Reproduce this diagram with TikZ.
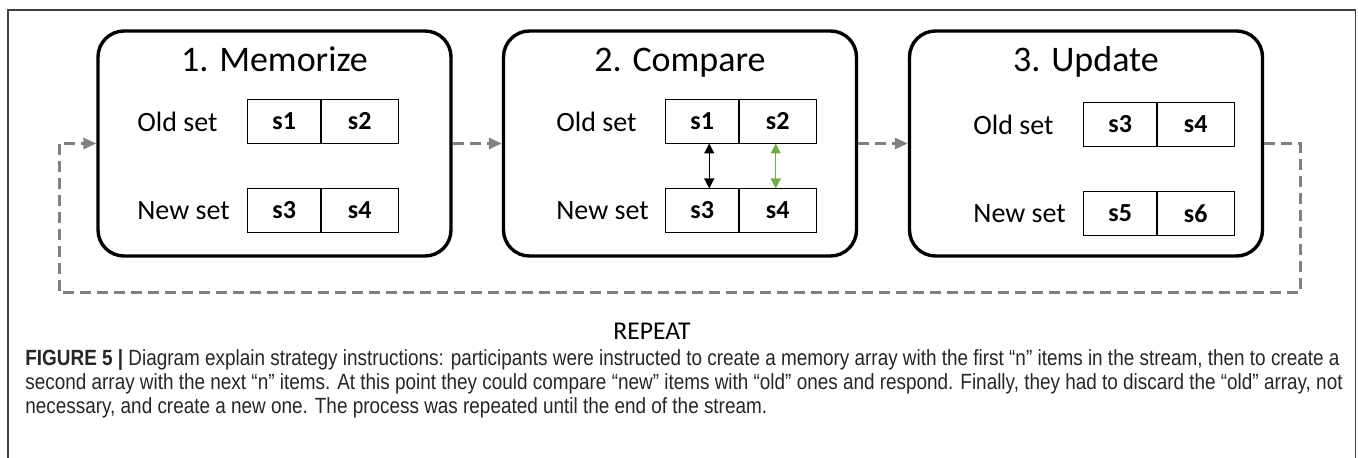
\documentclass[tikz,border=0pt]{standalone}
\usepackage{fontspec}
\setmainfont{Carlito}
\newfontfamily\capfont[FakeStretch=0.86]{Liberation Sans}
\usepackage{tikz}
\usetikzlibrary{arrows.meta,positioning}
\definecolor{loopgray}{RGB}{128,128,128}
\definecolor{matchgreen}{RGB}{112,173,71}
\newcommand{\cwa}{36.75pt}
\newcommand{\cwb}{38.75pt}

\begin{document}
\begin{tikzpicture}[x=0.5pt,y=-0.5pt,
  stage/.style={draw,line width=1.7pt,rounded corners=13pt,minimum width=176.5pt,minimum height=112.5pt},
  stagetitle/.style={inner sep=0pt,font=\fontsize{18}{20}\selectfont},
  setlabel/.style={inner sep=0pt,font=\fontsize{14}{16}\selectfont},
  cell/.style={draw,line width=0.7pt,outer sep=0pt,inner sep=0pt,minimum height=22pt,font=\bfseries\fontsize{13}{15}\selectfont},
  flow/.style={draw=loopgray,line width=1.5pt,dash pattern=on 5.5pt off 3pt,-{Triangle[length=6.5pt,width=5.5pt]}},
  cmp/.style={line width=0.6pt,{Triangle[length=5pt,width=5pt]}-{Triangle[length=5pt,width=5pt]}},
  capline/.style={inner sep=0pt,anchor=base west,font=\capfont\fontsize{11}{13}\selectfont,text=black!85}]
\useasboundingbox (0,0) rectangle (1358,458);
\draw[line width=0.6pt,black!75] (8,470) -- (8,10) -- (1355.5,10) -- (1355.5,470);

\foreach \n/\cx/\ttl/\lx/\clx/\oy/\ny/\oa/\ob/\na/\nb in {
  1/274.5/1. Memorize/137/247.5/99.5/188.5/s1/s2/s3/s4,
  2/680/2. Compare/556/665.5/99.5/188.5/s1/s2/s3/s4,
  3/1086/3. Update/973/1083.5/102.5/191.5/s3/s4/s5/s6}{
\node[stage] (st\n) at (\cx,143.5) {};
\node[stagetitle,anchor=base] (ti\n) at (\cx,72) {\ttl};
\node[cell,anchor=north west,minimum width=\cwa] (oa\n) at (\clx,\oy) {\oa};
\node[cell,anchor=west,minimum width=\cwb] (ob\n) at (oa\n.east) {\ob};
\node[cell,anchor=north west,minimum width=\cwa] (na\n) at (\clx,\ny) {\na};
\node[cell,anchor=west,minimum width=\cwb] (nb\n) at (na\n.east) {\nb};
\node[setlabel,anchor=base west] (ol\n) at (\lx,\oy+32) {Old set};
\node[setlabel,anchor=base west] (nl\n) at (\lx,\ny+31) {New set};
}

\draw[cmp] ([xshift=3.5pt]oa2.south) -- ([xshift=3.5pt]na2.north);
\draw[cmp,draw=matchgreen,fill=matchgreen] ([xshift=-1pt]ob2.south) -- ([xshift=-1pt]nb2.north);

\coordinate (rc) at (1300,293);
\coordinate (lc) at (59,293);
\draw[flow] (st1.east) -- (st2.west);
\draw[flow] (st2.east) -- (st3.west);
\draw[flow] (st3.east) -| (rc) -- (lc) |- (st1.west);

\node[anchor=base,inner sep=0pt,font=\fontsize{12.8}{14}\selectfont] (rep) at (652,340) {REPEAT};

\node[capline] (cap1) at (25,366) {\textbf{FIGURE 5 |} Diagram explain strategy instructions: participants were instructed to create a memory array with the first “n” items in the stream, then to create a};
\node[capline] (cap2) at (25,390) {second array with the next “n” items. At this point they could compare “new” items with “old” ones and respond. Finally, they had to discard the “old” array, not};
\node[capline] (cap3) at (25,414) {necessary, and create a new one. The process was repeated until the end of the stream.};
\end{tikzpicture}
\end{document}
